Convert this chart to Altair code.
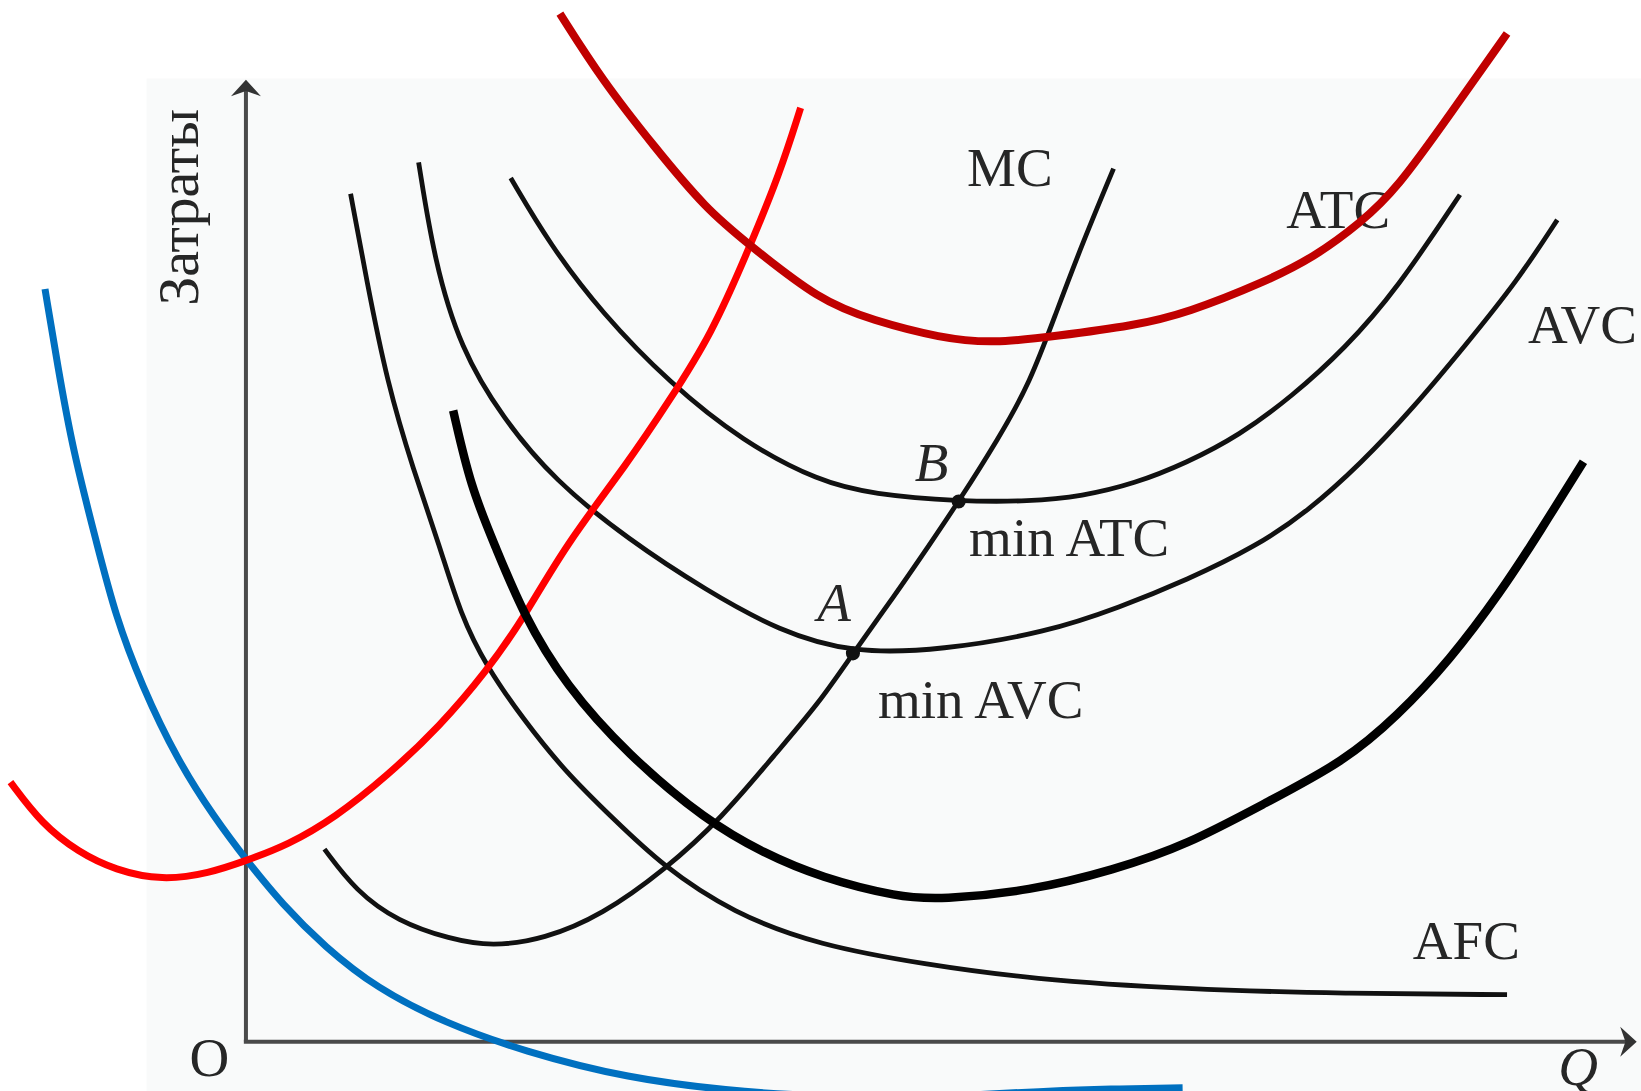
import altair as alt
import pandas as pd

# Chart geometry (axis units: Q to the right, cost upward, origin at the axis corner)
W, H = 1641, 1091
Q_DOMAIN = [-235, 1333]
C_DOMAIN = [-47, 995]

# Textbook cost curves
afc_q = [100, 115, 135, 160, 185, 205, 230, 265, 305, 350, 398, 465, 548, 649, 749, 899, 1050, 1205]
afc_c = [810, 729, 629, 546, 474, 408, 358, 308, 258, 214, 168, 123, 92, 74, 60, 50, 46, 45]

avc_q = [165, 180, 205, 245, 295, 365, 440, 510, 580, 665, 765, 835, 899, 965, 1015, 1065, 1115, 1165, 1215, 1253]
avc_c = [840, 746, 662, 596, 536, 480, 431, 392, 371, 374, 391, 415, 441, 473, 507, 552, 605, 665, 727, 785]

atc_q = [253, 290, 340, 405, 475, 548, 599, 681, 749, 799, 849, 899, 949, 999, 1050, 1100, 1160]
atc_c = [825, 762, 696, 629, 573, 535, 523, 516, 516, 521, 533, 553, 579, 616, 662, 719, 809]

mc_q = [75, 105, 145, 195, 235, 285, 340, 400, 455, 505, 548, 580, 619, 654, 681, 719, 749, 774, 799, 829]
mc_c = [184, 144, 115, 98, 91, 98, 121, 164, 214, 274, 324, 371, 425, 476, 516, 576, 629, 696, 762, 834]

# Hand-drawn curves
darkred_q = [300, 340, 390, 440, 480, 548, 599, 664, 714, 774, 849, 899, 974, 1020, 1065, 1100, 1150, 1205]
darkred_c = [982, 919, 855, 795, 762, 708, 689, 672, 667, 674, 684, 696, 726, 749, 782, 815, 885, 963]

red_q = [-225, -195, -160, -125, -80, -35, 0, 40, 85, 135, 185, 230, 265, 305, 365, 405, 445, 480, 510, 530]
red_c = [248, 208, 181, 164, 154, 161, 173, 188, 214, 254, 301, 354, 404, 474, 553, 613, 676, 756, 829, 892]

blue_q = [-192, -180, -165, -142, -125, -100, -65, -30, 0, 35, 75, 125, 190, 265, 365, 465, 525, 615, 715, 765, 825, 895]
blue_c = [719, 646, 563, 474, 408, 341, 268, 214, 174, 131, 91, 51, 18, -9, -35, -47, -51, -53, -50, -47, -45, -44]

black_q = [198, 215, 238, 265, 305, 365, 440, 495, 549, 624, 664, 749, 829, 899, 974, 1050, 1100, 1150, 1200, 1235, 1278]
black_c = [603, 529, 474, 408, 341, 274, 211, 180, 157, 138, 136, 144, 164, 188, 228, 268, 311, 364, 431, 485, 554]

# Minimum points A (min AVC) and B (min ATC)
point_names = ["A", "B"]
point_q = [580, 681]
point_c = [371, 516]

# Curve and point labels
label_text = ["MC", "ATC", "AVC", "AFC", "min ATC", "min AVC"]
label_q = [689, 994, 1225, 1115, 691, 604]
label_c = [817, 777, 667, 79, 464, 309]

italic_text = ["B", "A", "Q"]
italic_q = [639, 546, 1254]
italic_c = [536, 402, -41]

x_scale = alt.Scale(domain=Q_DOMAIN, nice=False, zero=False)
y_scale = alt.Scale(domain=C_DOMAIN, nice=False, zero=False)
X = lambda f="q": alt.X(f"{f}:Q", scale=x_scale, axis=None)
Y = lambda f="c": alt.Y(f"{f}:Q", scale=y_scale, axis=None)


def curve(qs, cs, color, width):
    df = pd.DataFrame({"q": qs, "c": cs, "i": range(len(qs))})
    return alt.Chart(df).mark_line(
        color=color, strokeWidth=width, interpolate="basis",
        clip=True, strokeCap="butt", strokeJoin="round"
    ).encode(x=X(), y=Y(), order=alt.Order("i:Q"))


# Light panel behind the textbook figure
panel = alt.Chart(pd.DataFrame({"q": [-95], "q2": [1333], "c": [920], "c2": [-47]})).mark_rect(
    color="#f9fafa", clip=True
).encode(x=X(), x2="q2", y=Y(), y2="c2")

# Axes with arrowheads
v_axis = alt.Chart(pd.DataFrame({"q": [0], "c": [0], "c2": [911]})).mark_rule(
    color="#4a4a4a", strokeWidth=4
).encode(x=X(), y=Y(), y2="c2")
h_axis = alt.Chart(pd.DataFrame({"q": [-2], "q2": [1321], "c": [0]})).mark_rule(
    color="#4a4a4a", strokeWidth=4
).encode(x=X(), x2="q2", y=Y())

arrow_path = "M0,-0.55 L1,0.55 L0,0.2 L-1,0.55 Z"
arrows = alt.Chart(pd.DataFrame({"q": [0, 1321], "c": [911, 0], "a": [0, 90]})).mark_point(
    shape=arrow_path, filled=True, color="#333333", size=900, opacity=1
).encode(x=X(), y=Y(), angle=alt.Angle("a:Q", scale=None))

afc = curve(afc_q, afc_c, "#111111", 4.8)
avc = curve(avc_q, avc_c, "#111111", 4.8)
atc = curve(atc_q, atc_c, "#111111", 4.8)
mc = curve(mc_q, mc_c, "#111111", 4.8)

dots = alt.Chart(pd.DataFrame({"q": point_q, "c": point_c, "n": point_names})).mark_point(
    filled=True, color="#111111", size=200, opacity=1
).encode(x=X(), y=Y())

font = "Liberation Serif"
labels = alt.Chart(pd.DataFrame({"q": label_q, "c": label_c, "t": label_text})).mark_text(
    font=font, fontSize=55, color="#262626", align="left", baseline="alphabetic"
).encode(x=X(), y=Y(), text="t:N")

italics = alt.Chart(pd.DataFrame({"q": italic_q, "c": italic_c, "t": italic_text})).mark_text(
    font=font, fontSize=55, fontStyle="italic", color="#262626", align="left", baseline="alphabetic"
).encode(x=X(), y=Y(), text="t:N")

origin = alt.Chart(pd.DataFrame({"q": [-35], "c": [-33], "t": ["O"]})).mark_text(
    font=font, fontSize=55, color="#262626", align="center", baseline="alphabetic"
).encode(x=X(), y=Y(), text="t:N")

y_title = alt.Chart(pd.DataFrame({"q": [-46], "c": [797], "t": ["Затраты"]})).mark_text(
    font=font, fontSize=58, color="#262626", align="center", baseline="alphabetic", angle=270
).encode(x=X(), y=Y(), text="t:N")

blue = curve(blue_q, blue_c, "#0070c0", 7)
red = curve(red_q, red_c, "#ff0000", 7)
black = curve(black_q, black_c, "#000000", 8.5)
darkred = curve(darkred_q, darkred_c, "#c00000", 8)

chart = alt.layer(
    panel, v_axis, h_axis, arrows,
    afc, avc, atc, mc, dots,
    labels, italics, origin, y_title,
    blue, red, black, darkred,
).properties(
    width=W, height=H, padding=0, autosize=alt.AutoSizeParams(type="none"),
    background="white",
).configure_view(stroke=None)

chart.save("out.html", embed_options={"renderer": "svg", "actions": False})
